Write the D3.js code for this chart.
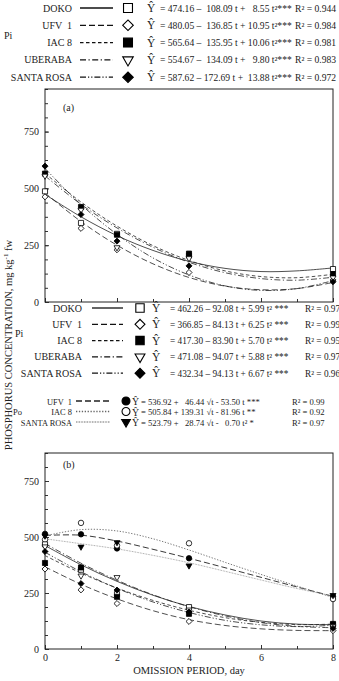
<!DOCTYPE html>
<html>
<head>
<meta charset="utf-8">
<script src="https://cdn.jsdelivr.net/npm/d3@7"></script>
<style>
  body { margin: 0; background: #fff; }
  svg { display: block; font-family: "Liberation Serif", "Times New Roman", serif; }
  text { white-space: pre; fill: #222; }
</style>
</head>
<body>
<svg id="chart" width="339" height="681"></svg>
<script>
// === dane ===
const days = [0, 1, 2, 4, 8];
const fitDays = [0, 1, 2, 3, 4, 5, 6, 7, 8];
const cultivars = ["DOKO", "UFV  1", "IAC 8", "UBERABA", "SANTA ROSA"];
const poCultivars = ["UFV  1", "IAC 8", "SANTA ROSA"];
const yTicks = [0, 250, 500, 750];
const xTicks = [0, 2, 4, 6, 8];

// (a) Pi - punkty
const ptsA_doko = [487, 348, 300, 205, 145];
const ptsA_ufv = [463, 324, 230, 130, 97];
const ptsA_iac = [565, 418, 296, 213, 123];
const ptsA_ube = [555, 405, 240, 192, 107];
const ptsA_sro = [598, 385, 268, 159, 89];
// (a) Pi - krzywe
const fitA_doko = [474, 375, 292, 227, 179, 148, 134, 137, 150];
const fitA_ufv = [480, 354, 250, 168, 108, 70, 54, 59, 86];
const fitA_iac = [566, 440, 334, 248, 183, 137, 112, 107, 122];
const fitA_ube = [555, 430, 326, 241, 175, 129, 103, 96, 109];
const fitA_sro = [588, 429, 298, 194, 119, 71, 51, 59, 94];

// (b) Pi - punkty
const ptsB_doko = [467, 354, 245, 187, 108];
const ptsB_ufv = [357, 264, 203, 123, 82];
const ptsB_iac = [384, 364, 233, 157, 112];
const ptsB_ube = [457, 327, 320, 175, 100];
const ptsB_sro = [435, 292, 263, 165, 92];
// (b) Pi - krzywe
const fitB_doko = [462, 376, 302, 240, 190, 152, 125, 111, 109];
const fitB_ufv = [367, 289, 224, 171, 131, 105, 90, 83, 82];
const fitB_iac = [417, 339, 272, 217, 173, 140, 119, 109, 111];
const fitB_ube = [471, 383, 307, 242, 189, 148, 118, 101, 95];
const fitB_sro = [432, 345, 271, 210, 163, 128, 108, 100, 106];

// (b) Po - punkty i krzywe
const ptsPo_ufv = [514, 512, 449, 405, 233];
const ptsPo_iac = [488, 563, 462, 472, 223];
const ptsPo_sro = [505, 456, 476, 372, 240];
const fitPo_ufv = [507, 508, 482, 445, 405, 363, 320, 277, 235];
const fitPo_iac = [505, 533, 527, 492, 442, 387, 333, 281, 230];
const fitPo_sro = [492, 470, 447, 418, 385, 347, 308, 270, 237];

// równania z legend
const eqA = ["= 474.16 \u2013  108.09 t +   8.55 t\u00b2***", "= 480.05 \u2013  136.85 t + 10.95 t\u00b2***",
  "= 565.64 \u2013  135.95 t + 10.06 t\u00b2***", "= 554.67 \u2013  134.09 t +   9.80 t\u00b2***",
  "= 587.62 \u2013 172.69 t +  13.88 t\u00b2***"];
const r2A = ["R\u00b2 = 0.944", "R\u00b2 = 0.984", "R\u00b2 = 0.981", "R\u00b2 = 0.983", "R\u00b2 = 0.972"];
const eqB = ["= 462.26 \u2013 92.08 t + 5.99 t\u00b2 ***", "= 366.85 \u2013 84.13 t + 6.25 t\u00b2 ***",
  "= 417.30 \u2013 83.90 t + 5.70 t\u00b2 ***", "= 471.08 \u2013 94.07 t + 5.88 t\u00b2 ***",
  "= 432.34 \u2013 94.13 t + 6.67 t\u00b2 ***"];
const r2B = ["R\u00b2 = 0.97", "R\u00b2 = 0.99", "R\u00b2 = 0.95", "R\u00b2 = 0.97", "R\u00b2 = 0.96"];
const eqPo = ["= 536.92 +   46.44 \u221at - 53.50 t ***", "= 505.84 + 139.31 \u221at - 81.96 t **",
  "= 523.79 +   28.74 \u221at -   0.70 t\u00b2 *"];
const r2Po = ["R\u00b2 = 0.99", "R\u00b2 = 0.92", "R\u00b2 = 0.97"];

// === style serii ===
const piStyles = [
  { dash: null, sym: "square", fill: "#fff" },
  { dash: "6,3", sym: "diamond", fill: "#fff" },
  { dash: "3.5,2.5", sym: "square", fill: "#000" },
  { dash: "6,2.5,1.2,2.5", sym: "triangle", fill: "#fff" },
  { dash: "6,2,1.2,2,1.2,2", sym: "diamond", fill: "#000" }
];
const poStyles = [
  { dash: "6,3", sym: "circle", fill: "#000", color: "#222", lw: 0.9 },
  { dash: "1.3,1.6", sym: "circle", fill: "#fff", color: "#666", lw: 0.9 },
  { dash: "0.8,0.8", sym: "triangle", fill: "#000", color: "#888", lw: 0.8 }
];

const svg = d3.select("#chart");
const x = d3.scaleLinear().domain([0, 8]).range([45, 333]);
const yA = d3.scaleLinear().domain([0, 937.5]).range([302, 89]);
const yB = d3.scaleLinear().domain([0, 875]).range([649, 453]);

function symPath(type, size) {
  const t = type === "circle" ? d3.symbolCircle : type === "triangle" ? d3.symbolTriangle : d3.symbolSquare;
  return d3.symbol().type(t).size(size)();
}
function symTransform(type, px, py) {
  let r = type === "diamond" ? 45 : type === "triangle" ? 180 : 0;
  return `translate(${px},${py}) rotate(${r})`;
}
function symSize(type, base) {
  return type === "diamond" ? base * 0.7 : type === "triangle" ? base * 0.6 : type === "circle" ? base * 0.9 : base;
}

function drawFrame(y, label, labelY, showX) {
  const g = svg.append("g");
  const y0 = y.range()[0], y1 = y.range()[1];
  // małe podziałki
  g.append("g").attr("transform", `translate(${x(0)},0)`)
    .call(d3.axisLeft(y).tickValues(d3.range(0, y.domain()[1] + 0.1, 62.5)).tickSize(-3).tickFormat(""))
    .call(a => a.select(".domain").remove());
  g.append("g").attr("transform", `translate(${x(0)},0)`)
    .call(d3.axisLeft(y).tickValues(yTicks).tickSize(-4).tickPadding(6))
    .call(a => a.select(".domain").remove())
    .selectAll("text").attr("font-size", 10).attr("font-family", "Liberation Serif").attr("fill", "#333");
  g.append("g").attr("transform", `translate(0,${y0})`)
    .call(d3.axisBottom(x).tickValues(d3.range(0, 9)).tickSize(-3).tickFormat(""))
    .call(a => a.select(".domain").remove());
  const xa = g.append("g").attr("transform", `translate(0,${y0})`)
    .call(d3.axisBottom(x).tickValues(xTicks).tickSize(-4).tickPadding(5).tickFormat(showX ? d3.format("d") : ""))
    .call(a => a.select(".domain").remove());
  xa.selectAll("text").attr("font-size", 10).attr("font-family", "Liberation Serif").attr("fill", "#333");
  g.selectAll(".tick line").attr("stroke", "#333");
  g.append("rect").attr("x", x(0)).attr("y", y1).attr("width", x(8) - x(0)).attr("height", y0 - y1)
    .attr("fill", "none").attr("stroke", "#222").attr("stroke-width", 1);
  svg.append("text").attr("x", 63).attr("y", labelY).attr("font-size", 10).text(label);
}

const line = y => d3.line().x((d, i) => x(fitDays[i])).y(d => y(d)).curve(d3.curveCatmullRom.alpha(0.5));

function drawSeries(y, fits, pts, styles, base) {
  fits.forEach((f, i) => {
    const s = styles[i];
    svg.append("path").attr("d", line(y)(f)).attr("fill", "none")
      .attr("stroke", s.color || "#222").attr("stroke-width", s.lw || 0.8)
      .attr("stroke-dasharray", s.dash);
  });
  pts.forEach((p, i) => {
    const s = styles[i];
    svg.append("g").selectAll("path").data(p).enter().append("path")
      .attr("d", symPath(s.sym, symSize(s.sym, base)))
      .attr("transform", (d, j) => symTransform(s.sym, x(days[j]), y(d)))
      .attr("fill", s.fill).attr("stroke", "#000").attr("stroke-width", 0.8);
  });
}

function drawLegend(names, eqs, r2s, styles, o) {
  names.forEach((n, i) => {
    const s = styles[i];
    const ry = o.y0 + i * o.dy;
    svg.append("text").attr("x", o.nameX).attr("y", ry + 3.5).attr("text-anchor", "end")
      .attr("font-size", o.fs).text(n);
    svg.append("line").attr("x1", o.l1).attr("x2", o.l2).attr("y1", ry).attr("y2", ry)
      .attr("stroke", s.color || "#111").attr("stroke-width", 1.3).attr("stroke-dasharray", s.dash);
    svg.append("path").attr("d", symPath(s.sym, symSize(s.sym, o.ms)))
      .attr("transform", symTransform(s.sym, o.mx, ry))
      .attr("fill", s.fill).attr("stroke", "#000").attr("stroke-width", 1.1);
    svg.append("text").attr("x", o.hatX).attr("y", ry + 4).attr("font-size", o.fs + 1.5).text("\u0176");
    svg.append("text").attr("x", o.eqX).attr("y", ry + 3.5).attr("font-size", o.efs).text(eqs[i]);
    svg.append("text").attr("x", o.rX).attr("y", ry + 3.5).attr("font-size", o.efs).text(r2s[i]);
  });
}

// === panel (a) ===
drawFrame(yA, "(a)", 111, false);
drawSeries(yA, [fitA_doko, fitA_ufv, fitA_iac, fitA_ube, fitA_sro],
  [ptsA_doko, ptsA_ufv, ptsA_iac, ptsA_ube, ptsA_sro], piStyles, 26);

// === panel (b) ===
drawFrame(yB, "(b)", 468, true);
drawSeries(yB, [fitPo_ufv, fitPo_iac, fitPo_sro], [ptsPo_ufv, ptsPo_iac, ptsPo_sro], poStyles, 26);
drawSeries(yB, [fitB_doko, fitB_ufv, fitB_iac, fitB_ube, fitB_sro],
  [ptsB_doko, ptsB_ufv, ptsB_iac, ptsB_ube, ptsB_sro], piStyles, 26);

// === legendy ===
drawLegend(cultivars, eqA, r2A, piStyles,
  { y0: 8, dy: 17.3, nameX: 72, l1: 80, l2: 113, mx: 128, ms: 80, hatX: 147, eqX: 160, rX: 295, fs: 10, efs: 9.6 });
svg.append("text").attr("x", 4).attr("y", 39).attr("font-size", 10).text("Pi");

drawLegend(cultivars, eqB, r2B, piStyles,
  { y0: 308, dy: 16.3, nameX: 82, l1: 92, l2: 123, mx: 140, ms: 70, hatX: 152, eqX: 170, rX: 305, fs: 10, efs: 9.3 });
svg.append("text").attr("x", 15).attr("y", 337).attr("font-size", 10).text("Pi");

drawLegend(poCultivars, eqPo, r2Po, poStyles,
  { y0: 401, dy: 10.5, nameX: 72, l1: 76, l2: 110, mx: 126, ms: 55, hatX: 132, eqX: 141, rX: 292, fs: 8.4, efs: 8.6 });
svg.append("text").attr("x", 13).attr("y", 415).attr("font-size", 8.5).text("Po");

// === opisy osi ===
const yl = svg.append("text").attr("transform", "translate(11.5,345) rotate(-90)")
  .attr("text-anchor", "middle").attr("font-size", 10.5);
yl.append("tspan").text("PHOSPHORUS CONCENTRATION, mg kg");
yl.append("tspan").attr("dy", -4).attr("font-size", 7).text("-1");
yl.append("tspan").attr("dy", 4).text(" fw");

svg.append("text").attr("x", 189).attr("y", 674).attr("text-anchor", "middle")
  .attr("font-size", 10.5).text("OMISSION PERIOD, day");
</script>
</body>
</html>
